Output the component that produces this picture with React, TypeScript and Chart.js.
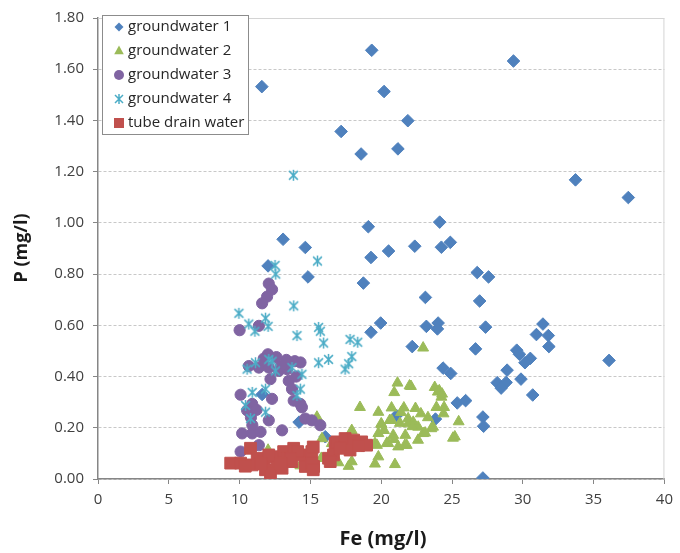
import React, { useEffect, useRef } from "react";
import { Chart, registerables } from "chart.js";

Chart.register(...registerables);

const FONT = '"Open Sans", "DejaVu Sans", sans-serif';

const seriesNames = ["groundwater 1", "groundwater 2", "groundwater 3", "groundwater 4", "tube drain water"];
const seriesColors = ["#4F81BD", "#9BBB59", "#8064A2", "#4BACC6", "#C0504D"];

const xTicks = [0, 5, 10, 15, 20, 25, 30, 35, 40];
const yTicks = [0, 0.2, 0.4, 0.6, 0.8, 1.0, 1.2, 1.4, 1.6, 1.8];

// groundwater 1 (Fe, P)
const gw1Fe = [11.57, 19.33, 29.34, 20.2, 21.88, 17.17, 18.58, 21.18, 33.72, 37.45, 19.09, 24.13, 13.07, 14.64, 19.28, 20.52, 22.37, 24.25, 24.88, 12.01, 14.83, 26.78, 27.58, 18.74, 23.12, 26.95, 19.96, 19.28, 23.19, 24.02, 23.97, 27.37, 22.19, 26.66, 31.42, 30.96, 31.8, 31.84, 29.57, 29.76, 30.53, 30.15, 36.09, 24.37, 24.91, 28.89, 29.87, 28.19, 28.82, 28.47, 30.7, 25.37, 25.96, 27.18, 27.23, 27.18, 23.83, 21.08, 11.59, 16.05, 14.2];
const gw1P = [1.532, 1.674, 1.632, 1.513, 1.399, 1.357, 1.269, 1.289, 1.168, 1.099, 0.985, 1.003, 0.936, 0.904, 0.865, 0.89, 0.909, 0.905, 0.924, 0.832, 0.789, 0.806, 0.789, 0.765, 0.709, 0.695, 0.609, 0.573, 0.596, 0.609, 0.586, 0.593, 0.517, 0.508, 0.605, 0.564, 0.56, 0.517, 0.503, 0.487, 0.471, 0.454, 0.463, 0.433, 0.412, 0.425, 0.39, 0.376, 0.377, 0.355, 0.328, 0.297, 0.306, 0.242, 0.206, 0.004, 0.234, 0.248, 0.33, 0.165, 0.222];

// groundwater 2
const gw2Fe = [22.96, 21.15, 20.92, 22.1, 23.78, 24.0, 24.25, 18.5, 19.8, 20.73, 21.6, 22.42, 23.9, 24.44, 24.4, 20.73, 21.32, 21.9, 22.26, 22.61, 25.47, 20.03, 23.66, 23.54, 19.8, 20.85, 21.7, 22.96, 22.6, 25.07, 19.56, 20.5, 21.67, 21.2, 17.92, 19.8, 19.56, 20.97, 17.92, 16.98, 17.7, 15.46, 15.82, 15.77, 12.01, 14.29, 16.51, 20.0, 20.6, 21.9, 22.2, 23.1, 22.0, 24.1, 24.3, 25.2, 19.7, 20.4, 21.8, 20.2, 20.9, 23.3, 22.8, 21.4, 15.8];
const gw2P = [0.512, 0.375, 0.338, 0.362, 0.358, 0.34, 0.32, 0.28, 0.261, 0.278, 0.278, 0.276, 0.28, 0.28, 0.255, 0.229, 0.218, 0.236, 0.222, 0.203, 0.224, 0.212, 0.203, 0.197, 0.178, 0.171, 0.171, 0.178, 0.152, 0.16, 0.139, 0.139, 0.132, 0.126, 0.19, 0.087, 0.059, 0.057, 0.068, 0.064, 0.05, 0.242, 0.158, 0.081, 0.113, 0.052, 0.139, 0.216, 0.229, 0.216, 0.205, 0.18, 0.364, 0.345, 0.332, 0.165, 0.132, 0.14, 0.132, 0.19, 0.155, 0.24, 0.255, 0.26, 0.081];

// groundwater 3
const gw3Fe = [12.06, 12.29, 11.94, 11.59, 10.0, 11.36, 12.0, 12.6, 13.3, 13.9, 14.3, 10.65, 11.36, 12.06, 12.76, 13.35, 12.18, 13.47, 13.7, 13.82, 14.29, 10.07, 10.89, 10.53, 12.29, 12.06, 14.4, 14.64, 15.1, 15.7, 13.0, 10.18, 10.89, 11.48, 10.9, 10.07, 11.36, 11.2, 10.8, 12.9, 11.7, 14.0];
const gw3P = [0.763, 0.74, 0.712, 0.686, 0.581, 0.598, 0.487, 0.476, 0.465, 0.46, 0.455, 0.441, 0.435, 0.435, 0.422, 0.429, 0.39, 0.383, 0.351, 0.306, 0.293, 0.329, 0.293, 0.268, 0.313, 0.229, 0.28, 0.236, 0.229, 0.21, 0.19, 0.178, 0.178, 0.184, 0.21, 0.107, 0.132, 0.27, 0.24, 0.44, 0.47, 0.4];

// groundwater 4
const gw4Fe = [13.8, 15.5, 12.5, 12.55, 9.95, 10.65, 11.08, 11.83, 12.01, 13.82, 14.05, 15.58, 15.7, 15.93, 16.28, 15.58, 10.53, 11.12, 12.06, 12.53, 13.7, 14.4, 10.89, 11.83, 10.42, 11.83, 10.77, 14.29, 14.05, 17.8, 18.34, 17.92, 17.7, 17.45, 12.3];
const gw4P = [1.186, 0.851, 0.834, 0.8, 0.647, 0.605, 0.577, 0.628, 0.596, 0.676, 0.56, 0.592, 0.577, 0.531, 0.467, 0.454, 0.429, 0.454, 0.467, 0.422, 0.435, 0.409, 0.338, 0.351, 0.287, 0.261, 0.236, 0.351, 0.326, 0.545, 0.534, 0.478, 0.45, 0.429, 0.46];

// tube drain water
const tdFe = [9.37, 10.07, 10.77, 11.24, 10.89, 11.71, 11.83, 12.41, 12.64, 13.11, 13.35, 13.82, 13.7, 14.29, 14.64, 15.1, 15.23, 12.06, 12.18, 13.0, 14.1, 13.6, 15.2, 15.1, 15.2, 16.28, 16.75, 16.87, 17.45, 18.05, 18.62, 18.97, 17.8, 16.63, 16.4, 18.4, 17.1, 10.4, 11.5, 12.9];
const tdP = [0.062, 0.062, 0.12, 0.081, 0.055, 0.068, 0.036, 0.087, 0.049, 0.107, 0.081, 0.12, 0.068, 0.094, 0.049, 0.107, 0.049, 0.094, 0.023, 0.042, 0.107, 0.08, 0.125, 0.062, 0.036, 0.081, 0.139, 0.145, 0.158, 0.152, 0.145, 0.132, 0.113, 0.094, 0.068, 0.13, 0.12, 0.05, 0.06, 0.06];

const pts = (xs: number[], ys: number[]) => xs.map((x, i) => ({ x, y: ys[i] }));

function makeStar(size: number, color: string): HTMLCanvasElement {
  const c = document.createElement("canvas");
  c.width = size;
  c.height = size;
  const g = c.getContext("2d")!;
  const h = size / 2;
  const r = h - 1;
  g.strokeStyle = color;
  g.lineWidth = 1.5;
  g.beginPath();
  g.moveTo(h, h - r);
  g.lineTo(h, h + r);
  const d = r * 0.8;
  g.moveTo(h - d, h - d);
  g.lineTo(h + d, h + d);
  g.moveTo(h + d, h - d);
  g.lineTo(h - d, h + d);
  g.stroke();
  return c;
}

function drawMarker(ctx: CanvasRenderingContext2D, kind: number, x: number, y: number, star: HTMLCanvasElement) {
  ctx.save();
  ctx.fillStyle = seriesColors[kind];
  ctx.beginPath();
  if (kind === 0) {
    const r = 4.5;
    ctx.moveTo(x - r, y);
    ctx.lineTo(x, y - r);
    ctx.lineTo(x + r, y);
    ctx.lineTo(x, y + r);
    ctx.closePath();
    ctx.fill();
  } else if (kind === 1) {
    const r = 5.5;
    ctx.moveTo(x, y - r);
    ctx.lineTo(x + r * 0.87, y + r * 0.5 + 0.5);
    ctx.lineTo(x - r * 0.87, y + r * 0.5 + 0.5);
    ctx.closePath();
    ctx.fill();
  } else if (kind === 2) {
    ctx.arc(x, y, 5, 0, Math.PI * 2);
    ctx.fill();
  } else if (kind === 3) {
    ctx.drawImage(star, x - star.width / 2, y - star.height / 2);
  } else {
    ctx.rect(x - 5, y - 5, 10, 10);
    ctx.fill();
  }
  ctx.restore();
}

export default function App() {
  const ref = useRef<HTMLCanvasElement | null>(null);

  useEffect(() => {
    if (!ref.current) return;
    const star = makeStar(13, seriesColors[3]);
    const legendStar = makeStar(12, seriesColors[3]);

    const overlay = {
      id: "overlay",
      beforeDatasetsDraw(chart: any) {
        const { ctx, chartArea: a } = chart;
        ctx.save();
        ctx.strokeStyle = "#d4d4d4";
        ctx.lineWidth = 1;
        ctx.beginPath();
        ctx.moveTo(a.left, a.top + 0.5);
        ctx.lineTo(a.right - 0.5, a.top + 0.5);
        ctx.lineTo(a.right - 0.5, a.bottom);
        ctx.stroke();
        ctx.restore();
      },
      afterDraw(chart: any) {
        const { ctx } = chart;
        ctx.save();
        // legend box
        ctx.fillStyle = "#ffffff";
        ctx.fillRect(102, 15, 147, 120);
        ctx.strokeStyle = "#8c8c8c";
        ctx.lineWidth = 1;
        ctx.strokeRect(102.5, 15.5, 146, 119);
        ctx.font = `15px ${FONT}`;
        ctx.textBaseline = "middle";
        ctx.textAlign = "left";
        seriesNames.forEach((name, i) => {
          const y = 27 + i * 24;
          drawMarker(ctx, i, 119, y, legendStar);
          ctx.fillStyle = "#262626";
          ctx.fillText(name, 128, y);
        });
        // axis titles
        ctx.fillStyle = "#1a1a1a";
        ctx.textAlign = "center";
        ctx.textBaseline = "middle";
        ctx.font = `bold 20px ${FONT}`;
        ctx.fillText("Fe (mg/l)", 383, 539);
        ctx.font = `bold 18px ${FONT}`;
        ctx.translate(22, 248);
        ctx.rotate(-Math.PI / 2);
        ctx.fillText("P (mg/l)", 0, 0);
        ctx.restore();
      },
    };

    const chart = new Chart(ref.current, {
      type: "scatter",
      data: {
        datasets: [
          { label: seriesNames[0], data: pts(gw1Fe, gw1P), pointStyle: "rectRot", pointRadius: 6.3, backgroundColor: seriesColors[0], borderColor: seriesColors[0], borderWidth: 1, order: 5 },
          { label: seriesNames[1], data: pts(gw2Fe, gw2P), pointStyle: "triangle", pointRadius: 6.3, backgroundColor: seriesColors[1], borderColor: seriesColors[1], borderWidth: 1, order: 4 },
          { label: seriesNames[2], data: pts(gw3Fe, gw3P), pointStyle: "circle", pointRadius: 5.6, backgroundColor: seriesColors[2], borderColor: seriesColors[2], borderWidth: 1, order: 3 },
          { label: seriesNames[3], data: pts(gw4Fe, gw4P), pointStyle: star as any, pointRadius: 6, backgroundColor: seriesColors[3], borderColor: seriesColors[3], borderWidth: 1, order: 2 },
          { label: seriesNames[4], data: pts(tdFe, tdP), pointStyle: "rect", pointRadius: 8.3, backgroundColor: seriesColors[4], borderColor: seriesColors[4], borderWidth: 1, order: 1 },
        ],
      },
      options: {
        responsive: false,
        animation: false,
        events: [],
        layout: { padding: { left: 0, top: 13, right: 12, bottom: 0 } },
        plugins: { legend: { display: false }, tooltip: { enabled: false }, title: { display: false } },
        scales: {
          x: {
            type: "linear",
            min: 0,
            max: 40,
            afterBuildTicks: (s: any) => { s.ticks = xTicks.map((v) => ({ value: v })); },
            afterFit: (s: any) => { s.height = 74; },
            ticks: { font: { family: FONT, size: 15 }, color: "#404040", padding: 7, maxRotation: 0 },
            grid: { drawOnChartArea: false, drawTicks: true, tickLength: 5, tickColor: "#868686", tickWidth: 1 },
            border: { color: "#868686", width: 1.5 },
          },
          y: {
            type: "linear",
            min: 0,
            max: 1.8,
            afterBuildTicks: (s: any) => { s.ticks = yTicks.map((v) => ({ value: v })); },
            afterFit: (s: any) => { s.width = 98; },
            ticks: { font: { family: FONT, size: 15 }, color: "#404040", padding: 9, callback: (v: any) => Number(v).toFixed(2) },
            grid: { color: "#c8c8c8", lineWidth: 1, drawTicks: true, tickLength: 5, tickColor: "#868686", tickWidth: 1 },
            border: { color: "#868686", width: 1.5, dash: [3, 2] },
          },
        },
      },
      plugins: [overlay],
    } as any);
    return () => chart.destroy();
  }, []);

  return (
    <div style={{ position: "absolute", left: 0, top: 0, width: 680, height: 553, background: "#fff" }}>
      <canvas ref={ref} width={680} height={553} style={{ display: "block" }} />
    </div>
  );
}
